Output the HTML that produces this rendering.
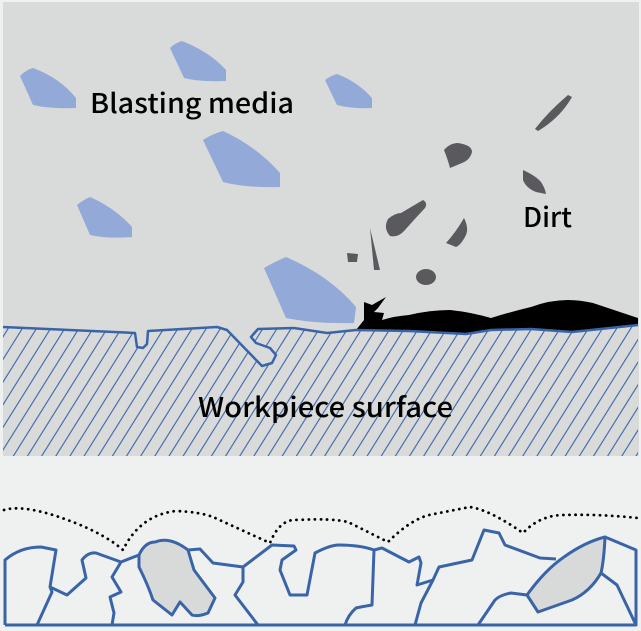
<!DOCTYPE html>
<html><head><meta charset="utf-8"><style>
html,body{margin:0;padding:0;background:#eff1f0;}
svg{display:block}
text{font-family:"Noto Sans CJK JP","Liberation Sans",sans-serif;fill:#000;font-weight:500}
</style></head><body>
<svg width="641" height="631" viewBox="0 0 641 631" xmlns="http://www.w3.org/2000/svg">
<defs>
<pattern id="h" width="12" height="12" patternUnits="userSpaceOnUse" patternTransform="rotate(32)">
<line x1="1" y1="0" x2="1" y2="12" stroke="#3a64a8" stroke-width="1.1"/>
</pattern>
</defs>
<rect x="0" y="0" width="641" height="631" fill="#eff1f0"/>
<rect x="3" y="2" width="636" height="454" fill="#d9dbda"/>
<path d="M3,327 L135,333 L137,347 L143,348 L147,344 L148,331 L217,327 L227,330 L262,366 L272,363 L276,355 L270,348 L256,343 L251,337 L258,329 L294,328 L327,333 L356,330 L409,331 L466,334 L491,330 L531,329 L572,332 L638,325 L638,456 L3,456 Z" fill="url(#h)"/>
<g fill="#93a9d7">
<path d="M33,68 Q26,70 20,76 L33,105 Q50,109 76,108 L76,98 Q60,78 33,68Z"/>
<path d="M182,41 Q175,43 170,48 L184,78 Q200,82 226,81 L226,70 Q210,52 182,41Z"/>
<path d="M337,74 Q330,76 325,80 L337,105 Q352,109 372,108 L372,98 Q358,82 337,74Z"/>
<path d="M223,131 Q212,134 203,140 L223,182 Q245,188 280,187 L280,173 Q256,146 223,131Z"/>
<path d="M90,197 Q83,200 77,205 L90,235 Q108,239 132,237 L132,227 Q115,208 90,197Z"/>
<path d="M286,257 Q274,262 264,268 L286,318 Q315,324 354,323 L356,307 Q330,276 286,257Z"/>
</g>
<g fill="#5a5a5e">
<path d="M568,95 L572,97 Q560,118 538,131 L535,129 Q548,112 568,95Z"/>
<path d="M444,150 Q450,143 458,143 Q472,145 472,152 Q470,160 462,163 L450,168 Q448,160 444,150Z"/>
<path d="M523,170 Q536,176 541,182 Q545,188 546,194 L536,192 Q526,188 523,180Z"/>
<path d="M423,200 Q428,203 425,208 Q412,222 405,230 Q398,238 390,236 Q383,228 388,219 Q395,213 401,213 Z"/>
<path d="M464,218 Q469,228 466,235 Q461,245 456,247 L446,243 Q456,232 464,218Z"/>
<path d="M370,228 L380,270 L374,270 Z"/>
<path d="M347,253 L358,254 L357,262 L348,262Z"/>
<ellipse cx="426" cy="277" rx="10" ry="8"/>
</g>
<path d="M356,330 L364,320 L364,302 L372,305 L386,297 L378,308 L374,312 L384,313 L382,320 Q395,316 409,315 Q430,310 450,310 Q470,312 491,318 Q510,312 531,307 Q550,300 568,300 Q580,300 593,303 L638,318 L638,325 L572,332 L531,329 L491,330 L466,334 L409,331 Z" fill="#000"/>
<path d="M3,327 L135,333 L137,347 L143,348 L147,344 L148,331 L217,327 L227,330 L262,366 L272,363 L276,355 L270,348 L256,343 L251,337 L258,329 L294,328 L327,333 L356,330 L409,331 L466,334 L491,330 L531,329 L572,332 L638,325" fill="none" stroke="#3a64a8" stroke-width="2.5" stroke-linejoin="round"/>
<text x="90" y="113" font-size="27" textLength="204" lengthAdjust="spacingAndGlyphs">Blasting media</text>
<text x="523" y="227" font-size="27" textLength="49" lengthAdjust="spacingAndGlyphs">Dirt</text>
<text x="198" y="417" font-size="27" textLength="255" lengthAdjust="spacingAndGlyphs">Workpiece surface</text>
<path d="M4,510 Q20,505 53,515 Q100,530 123,550 Q140,515 176,511 Q200,512 213,517 L270,543 Q280,518 298,520 Q330,518 348,522 L388,542 Q410,520 429,515 L470,507 Q490,510 523,533 Q540,515 564,515 Q600,514 638,518" fill="none" stroke="#000" stroke-width="2.8" stroke-dasharray="0.1 6" stroke-linecap="round"/>
<g fill="none" stroke="#3a64a8" stroke-width="3" stroke-linejoin="round">
<path d="M139,555 Q145,542 155,542 Q170,536 188,550 L194,570 L215,598 L208,613 Q198,617 192,615 L180,602 L172,615 L153,600 Q148,585 139,567 Z" fill="#d8dad9"/>
<path d="M527,595 Q545,570 564,557 Q585,542 605,537 Q604,560 601,573 Q590,592 572,600 L538,612 Z" fill="#d8dad9"/>
<path d="M5,625 L636,625 L636,550 L605,537"/>
<path d="M5,625 L5,560 Q20,547 41,547 L56,550 L50,587 L52,592 L37,625"/>
<path d="M50,587 L67,595 L86,578 L82,560 Q88,552 96,553 L121,562 L139,555"/>
<path d="M121,562 L112,577 L121,592 L110,597 L114,613 L112,625"/>
<path d="M188,550 L200,549 L213,563 L243,567 L243,582 L235,595 L258,625"/>
<path d="M243,567 L272,545 L294,546 L296,550 L282,560 L280,570 L290,595 L307,595 L315,553 Q330,545 339,545 Q360,545 374,550 L372,605 Q360,607 356,608 Q348,615 345,625"/>
<path d="M374,550 L382,548 L409,562 L419,557 L421,563 L417,585 L433,580 L439,567 L472,560 L484,530 L499,533 L505,545 L540,558 L556,559"/>
<path d="M433,580 L421,603 L415,625"/>
<path d="M601,573 L617,585 L636,625"/>
<path d="M527,595 L511,593 Q500,595 495,600 L478,625"/>
</g>
</svg>
</body></html>
